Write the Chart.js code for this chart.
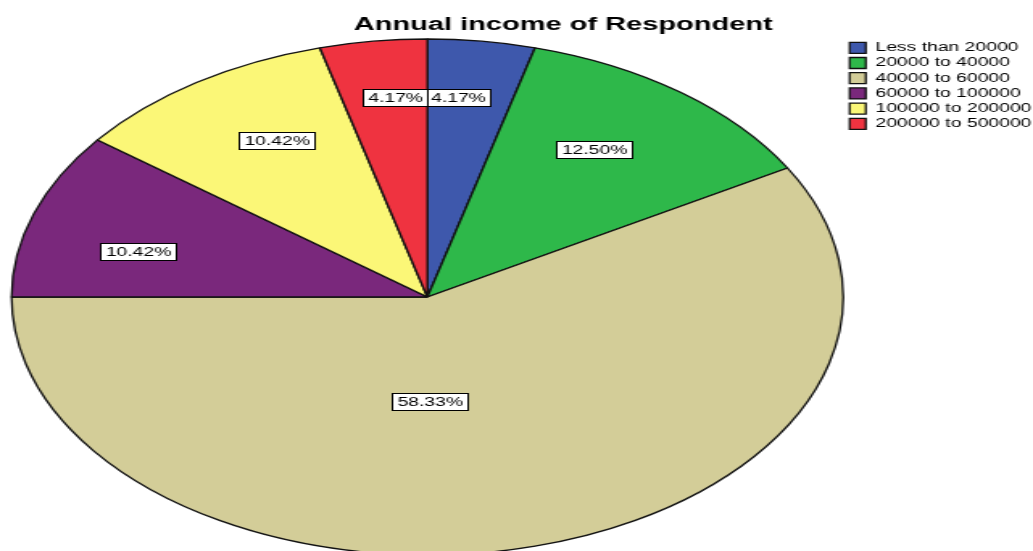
<!DOCTYPE html>
<html>
<head>
<meta charset="utf-8">
<script src="https://cdn.jsdelivr.net/npm/chart.js@4.4.1/dist/chart.umd.min.js"></script>
<style>
  html, body { margin: 0; padding: 0; background: #fff; overflow: hidden; }
</style>
</head>
<body>
<canvas id="c" width="641" height="551" style="display:block;width:1033px;height:551px;"></canvas>
<script>
// ---- data ----
const titleText = 'Annual income of Respondent';
const categories = ['Less than 20000', '20000 to 40000', '40000 to 60000', '60000 to 100000', '100000 to 200000', '200000 to 500000'];
const counts = [2, 6, 28, 5, 5, 2];
const sliceColors = ['#3e58ac', '#2eb84a', '#d3cd98', '#7a287c', '#fbf777', '#ef3340'];

// ---- layout (canvas units; canvas is stretched horizontally by CSS) ----
const PIE_CX = 265.2, PIE_CY = 297, PIE_R = 258;
// label placement: [fraction along slice angle, fraction of radius]
const labelPlace = [[0.35, 0.78], [0.44, 0.70], [0.569, 0.40], [0.39, 0.72], [0.579, 0.709], [0.607, 0.78]];

const total = counts.reduce((a, b) => a + b, 0);
const FONT = '"Liberation Sans", Arial, sans-serif';

const placePie = {
  id: 'placePie',
  afterLayout(chart) {
    const a = chart.chartArea;
    a.left = PIE_CX - PIE_R; a.right = PIE_CX + PIE_R;
    a.top = PIE_CY - PIE_R; a.bottom = PIE_CY + PIE_R;
    a.width = 2 * PIE_R; a.height = 2 * PIE_R;
    const lg = chart.legend;
    if (lg) { lg.left += 9; lg.right += 9; lg.top += 1; lg.bottom += 1; }
  }
};

const sliceLabels = {
  id: 'sliceLabels',
  afterDatasetsDraw(chart) {
    const ctx = chart.ctx;
    const meta = chart.getDatasetMeta(0);
    ctx.save();
    ctx.font = '12px ' + FONT;
    ctx.textAlign = 'center';
    ctx.textBaseline = 'middle';
    meta.data.forEach((arc, i) => {
      const p = arc.getProps(['x', 'y', 'startAngle', 'endAngle', 'outerRadius'], true);
      const [t, k] = labelPlace[i];
      const ang = p.startAngle + (p.endAngle - p.startAngle) * t;
      const x = p.x + Math.cos(ang) * p.outerRadius * k;
      const y = p.y + Math.sin(ang) * p.outerRadius * k + 1;
      const txt = (counts[i] / total * 100).toFixed(2) + '%';
      const w = Math.round(ctx.measureText(txt).width + 6);
      const h = 17;
      const bx = Math.round(x - w / 2), by = Math.round(y - h / 2);
      ctx.fillStyle = '#fff';
      ctx.fillRect(bx, by, w, h);
      ctx.strokeStyle = '#000';
      ctx.lineWidth = 1;
      ctx.strokeRect(bx + 0.5, by + 0.5, w, h);
      ctx.fillStyle = '#000';
      ctx.fillText(txt, bx + w / 2 + 0.5, by + h / 2 + 1);
    });
    ctx.restore();
  }
};

new Chart(document.getElementById('c'), {
  type: 'pie',
  data: {
    labels: categories,
    datasets: [{
      data: counts,
      backgroundColor: sliceColors,
      borderColor: '#111',
      borderWidth: 1.3,
      radius: PIE_R,
      clip: false
    }]
  },
  options: {
    responsive: false,
    devicePixelRatio: 1,
    animation: false,
    events: [],
    layout: { padding: { left: 58, right: 0, top: 0, bottom: 0 } },
    plugins: {
      title: {
        display: true,
        text: titleText,
        color: '#000',
        font: { family: FONT, size: 18, weight: 'bold', lineHeight: 1.2 },
        padding: { top: 14, bottom: 2 }
      },
      legend: {
        position: 'right',
        align: 'start',
        fullSize: false,
        labels: {
          color: '#000',
          font: { family: FONT, size: 12 },
          boxWidth: 10,
          boxHeight: 11,
          padding: 3.2
        }
      },
      tooltip: { enabled: false }
    }
  },
  plugins: [placePie, sliceLabels]
});
</script>
</body>
</html>
